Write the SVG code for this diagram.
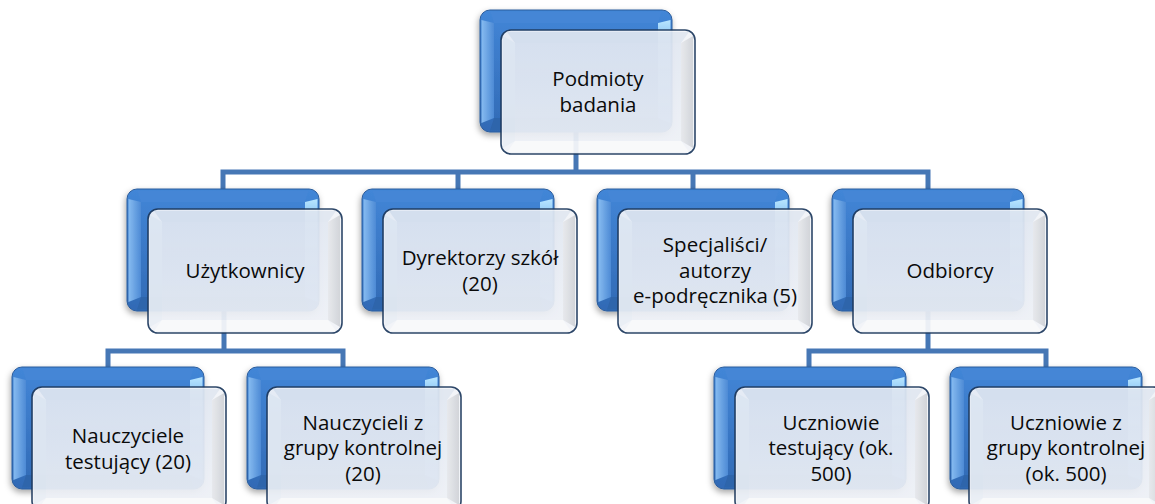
<svg xmlns="http://www.w3.org/2000/svg" xmlns:xlink="http://www.w3.org/1999/xlink" width="1155" height="504" viewBox="0 0 1155 504">
<style>
  .lbl { font-family: "Open Sans", "Liberation Sans", sans-serif; font-size: 20.5px; fill: #0a0a0a; text-anchor: middle; }
  .conn { fill: none; stroke: #4677b5; stroke-width: 5; stroke-linejoin: miter; stroke-linecap: butt; }
  .front { opacity: 0.93; }
</style>
<defs>
  <filter id="shadow" x="-20%" y="-20%" width="140%" height="150%">
    <feDropShadow dx="-1" dy="3" stdDeviation="3" flood-color="#000" flood-opacity="0.35"/>
  </filter>
  <linearGradient id="gBack" x1="0" y1="0" x2="0" y2="1">
    <stop offset="0" stop-color="#4286d7"/>
    <stop offset="0.5" stop-color="#3a78c6"/>
    <stop offset="1" stop-color="#316ab5"/>
  </linearGradient>
  <linearGradient id="gBevL" x1="0" y1="0" x2="1" y2="0">
    <stop offset="0" stop-color="#86bbf0"/>
    <stop offset="1" stop-color="#4d8ad5"/>
  </linearGradient>
  <linearGradient id="gBevR" x1="0" y1="0" x2="0" y2="1">
    <stop offset="0" stop-color="#b8e6ff"/>
    <stop offset="0.25" stop-color="#74b2ee"/>
    <stop offset="1" stop-color="#3f7ecb"/>
  </linearGradient>
  <linearGradient id="gFace" x1="0" y1="0" x2="0" y2="1">
    <stop offset="0" stop-color="#e2e8f2"/>
    <stop offset="1" stop-color="#edf0f6"/>
  </linearGradient>
  <linearGradient id="gFrR" x1="0" y1="0" x2="1" y2="0">
    <stop offset="0" stop-color="#e6e8ec"/>
    <stop offset="1" stop-color="#cfd2d7"/>
  </linearGradient>
  <g id="backShape">
    <rect x="0" y="0" width="192" height="122" rx="10" ry="10" fill="url(#gBack)" stroke="#2b5d9c" stroke-width="1"/>
    <polygon points="10,1.5 182,1.5 178,13 14,13" fill="#4486d6"/>
    <polygon points="1.5,10 14,13 14,108 1.5,113" fill="url(#gBevL)"/>
    <polygon points="190.5,10 178,13 178,108 190.5,113" fill="url(#gBevR)"/>
    <polygon points="14,108 178,108 182,120.5 10,120.5" fill="#2e65ab"/>
  </g>
  <g id="frontShape">
    <rect x="0" y="0" width="194" height="124" rx="10" ry="10" fill="#f2f4f8"/>
    <polygon points="6,2 188,2 180,13 14,13" fill="#e0e7f1"/>
    <polygon points="2,6 14,13 14,111 2,118" fill="#e9eef5"/>
    <polygon points="192,6 180,13 180,111 192,118" fill="url(#gFrR)"/>
    <polygon points="14,111 180,111 188,122 6,122" fill="#f8f9fa"/>
    <rect x="14" y="13" width="166" height="98" fill="url(#gFace)"/>
    <rect x="0" y="0" width="194" height="124" rx="10" ry="10" fill="none" stroke="#1e3a5e" stroke-width="1.6"/>
  </g>
</defs>

<rect x="0" y="0" width="1155" height="504" fill="#ffffff"/>

<g id="connectors">
  <path class="conn" d="M576,130 V172"/>
  <path class="conn" d="M223,189 V172 H928 V189"/>
  <path class="conn" d="M458,172 V189"/>
  <path class="conn" d="M693,172 V189"/>
  <path class="conn" d="M224,309 V351"/>
  <path class="conn" d="M108,367 V351 H343 V367"/>
  <path class="conn" d="M928,309 V351"/>
  <path class="conn" d="M809,367 V351 H1046 V367"/>
</g>

<g id="node-podmioty">
  <use xlink:href="#backShape" href="#backShape" x="480" y="10" filter="url(#shadow)"/>
  <use class="front" xlink:href="#frontShape" href="#frontShape" x="501" y="30"/>
  <text class="lbl" x="598" y="86">Podmioty</text>
  <text class="lbl" x="598" y="111.5">badania</text>
</g>

<g id="node-uzytkownicy">
  <use xlink:href="#backShape" href="#backShape" x="127" y="189" filter="url(#shadow)"/>
  <use class="front" xlink:href="#frontShape" href="#frontShape" x="148" y="209"/>
  <text class="lbl" x="245" y="278">Użytkownicy</text>
</g>

<g id="node-dyrektorzy">
  <use xlink:href="#backShape" href="#backShape" x="362" y="189" filter="url(#shadow)"/>
  <use class="front" xlink:href="#frontShape" href="#frontShape" x="383" y="209"/>
  <text class="lbl" x="480" y="265">Dyrektorzy szkół</text>
  <text class="lbl" x="480" y="290.5">(20)</text>
</g>

<g id="node-specjalisci">
  <use xlink:href="#backShape" href="#backShape" x="597" y="189" filter="url(#shadow)"/>
  <use class="front" xlink:href="#frontShape" href="#frontShape" x="618" y="209"/>
  <text class="lbl" x="715" y="252">Specjaliści/</text>
  <text class="lbl" x="715" y="277.5">autorzy</text>
  <text class="lbl" x="715" y="303">e-podręcznika (5)</text>
</g>

<g id="node-odbiorcy">
  <use xlink:href="#backShape" href="#backShape" x="832" y="189" filter="url(#shadow)"/>
  <use class="front" xlink:href="#frontShape" href="#frontShape" x="853" y="209"/>
  <text class="lbl" x="950" y="278">Odbiorcy</text>
</g>

<g id="node-nauczyciele-testujacy">
  <use xlink:href="#backShape" href="#backShape" x="12" y="367" filter="url(#shadow)"/>
  <use class="front" xlink:href="#frontShape" href="#frontShape" x="32" y="387"/>
  <text class="lbl" x="128" y="443">Nauczyciele</text>
  <text class="lbl" x="128" y="468.5">testujący (20)</text>
</g>

<g id="node-nauczyciele-kontrolna">
  <use xlink:href="#backShape" href="#backShape" x="247" y="367" filter="url(#shadow)"/>
  <use class="front" xlink:href="#frontShape" href="#frontShape" x="267" y="387"/>
  <text class="lbl" x="363" y="429.5">Nauczycieli z</text>
  <text class="lbl" x="363" y="455">grupy kontrolnej</text>
  <text class="lbl" x="363" y="480.5">(20)</text>
</g>

<g id="node-uczniowie-testujacy">
  <use xlink:href="#backShape" href="#backShape" x="714" y="367" filter="url(#shadow)"/>
  <use class="front" xlink:href="#frontShape" href="#frontShape" x="735" y="387"/>
  <text class="lbl" x="831" y="429.5">Uczniowie</text>
  <text class="lbl" x="831" y="455">testujący (ok.</text>
  <text class="lbl" x="831" y="480.5">500)</text>
</g>

<g id="node-uczniowie-kontrolna">
  <use xlink:href="#backShape" href="#backShape" x="950" y="367" filter="url(#shadow)"/>
  <use class="front" xlink:href="#frontShape" href="#frontShape" x="969" y="387"/>
  <text class="lbl" x="1066" y="429.5">Uczniowie z</text>
  <text class="lbl" x="1066" y="455">grupy kontrolnej</text>
  <text class="lbl" x="1066" y="480.5">(ok. 500)</text>
</g>
</svg>
